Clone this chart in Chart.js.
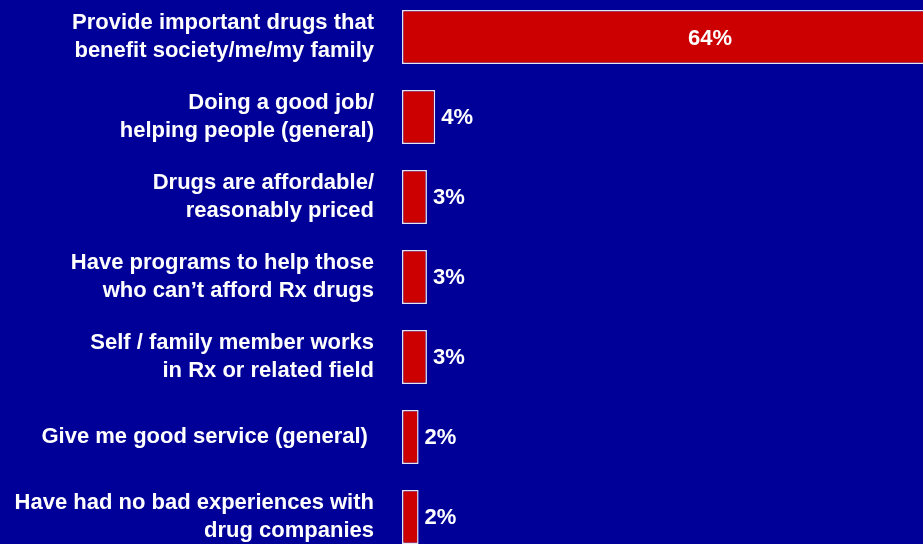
<!DOCTYPE html>
<html>
<head>
<meta charset="utf-8">
<title>Reasons for favourable opinion of drug companies</title>
<script src="https://cdn.jsdelivr.net/npm/chart.js@4.4.1/dist/chart.umd.min.js"></script>
<style>
  html, body { margin: 0; padding: 0; background: #000099; }
  #frame { position: relative; width: 923px; height: 544px; overflow: hidden; background: #000099; }
  #plot { position: absolute; left: 0; top: -3px; width: 983px; height: 560px; }
</style>
</head>
<body>
<div id="frame"><div id="plot"><canvas id="chart"></canvas></div></div>
<script>
// Answer categories (each entry is one wrapped label)
const categories = [
  ["Provide important drugs that", "benefit society/me/my family"],
  ["Doing a good job/", "helping people (general)"],
  ["Drugs are affordable/", "reasonably priced"],
  ["Have programs to help those", "who can\u2019t afford Rx drugs"],
  ["Self / family member works", "in Rx or related field"],
  "Give me good service (general) ",
  ["Have had no bad experiences with", "drug companies"]
];

// Share of respondents giving each reason (%)
const shares = [64, 4, 3, 3, 3, 2, 2];

const FONT = "'Liberation Sans', Arial, Helvetica, sans-serif";

// Writes the percentage next to each bar, or inside it when the bar is long
const valueLabels = {
  id: 'valueLabels',
  afterDatasetsDraw(chart) {
    const ctx = chart.ctx;
    const meta = chart.getDatasetMeta(0);
    ctx.save();
    ctx.fillStyle = '#ffffff';
    ctx.font = 'bold 22px ' + FONT;
    ctx.textBaseline = 'middle';
    meta.data.forEach((bar, i) => {
      const v = shares[i];
      const text = v + '%';
      if (v > 20) {
        ctx.textAlign = 'center';
        const x = bar.base + (bar.x - bar.base) * 0.58;
        ctx.fillText(text, x, bar.y + 2);
      } else {
        ctx.textAlign = 'left';
        ctx.fillText(text, bar.x + 6, bar.y + 1);
      }
    });
    ctx.restore();
  }
};

new Chart(document.getElementById('chart'), {
  type: 'bar',
  data: {
    labels: categories,
    datasets: [{
      data: shares,
      backgroundColor: '#cc0000',
      borderColor: '#e6e6f2',
      borderWidth: 1.5,
      borderSkipped: false,
      barPercentage: 0.675,
      categoryPercentage: 1
    }]
  },
  options: {
    indexAxis: 'y',
    responsive: true,
    maintainAspectRatio: false,
    animation: false,
    layout: { padding: 0 },
    plugins: {
      legend: { display: false },
      tooltip: { enabled: false }
    },
    scales: {
      x: {
        display: false,
        min: 0,
        max: 70
      },
      y: {
        grid: { display: false, drawTicks: false },
        border: { display: false },
        afterFit(scale) {
          scale.width = 402;
          scale.paddingTop = 0;
          scale.paddingBottom = 0;
        },
        ticks: {
          color: '#ffffff',
          padding: 28,
          font: { family: FONT, size: 22, weight: 'bold', lineHeight: 1.24 }
        }
      }
    }
  },
  plugins: [valueLabels]
});
</script>
</body>
</html>
